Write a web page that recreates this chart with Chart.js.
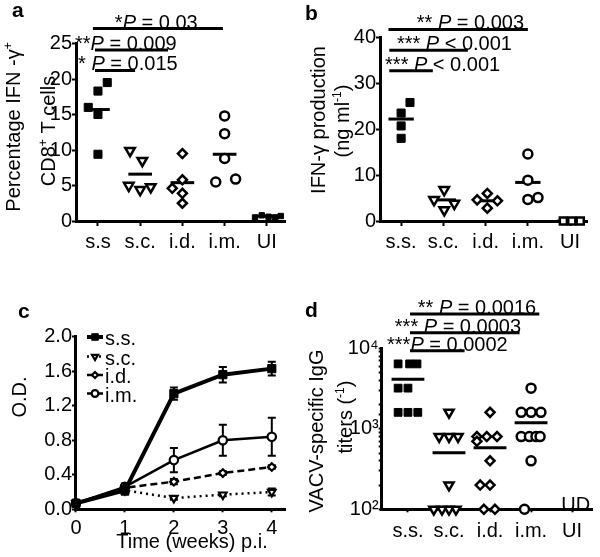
<!DOCTYPE html>
<html>
<head>
<meta charset="utf-8">
<script src="https://cdn.jsdelivr.net/npm/chart.js@4.4.0/dist/chart.umd.min.js"></script>
<style>
  body { margin: 0; background: #fff; }
  #wrap { position: relative; width: 600px; height: 557px; }
  canvas { position: absolute; }
</style>
</head>
<body>
<div id="wrap">
  <canvas id="panelA" width="300" height="280" style="left:0;top:0"></canvas>
  <canvas id="panelB" width="300" height="280" style="left:300px;top:0"></canvas>
  <canvas id="panelC" width="300" height="277" style="left:0;top:280px"></canvas>
  <canvas id="panelD" width="300" height="277" style="left:300px;top:280px"></canvas>
</div>
<script>
// ---- data ----
// dot plots: [jitter, value] per animal
const groupsA = ['s.s', 's.c.', 'i.d.', 'i.m.', 'UI'];
const aSS = [[-0.23, 16.0], [0, 18.3], [0.22, 19.5], [0, 15.0], [0, 9.4]];
const aSC = [[-0.24, 9.9], [0.05, 8.5], [-0.27, 5.0], [0, 4.4], [0.25, 4.8]];
const aID = [[0, 9.5], [0, 5.8], [-0.24, 4.6], [0, 3.9], [0, 2.5]];
const aIM = [[0, 14.8], [0, 12.3], [0, 8.8], [-0.21, 5.5], [0.26, 5.9]];
const aUI = [[-0.28, 0.5], [-0.12, 0.8], [0.04, 0.6], [0.2, 0.5], [0.33, 0.7]];
const aMeans = [15.7, 6.6, 5.4, 9.4, 0.7];
const aSig = [
  { from: 0.88, to: 3.96, y: 27.1, tx: 1.40, stars: '*', op: '=', p: '0.03' },
  { from: 0.93, to: 2.66, y: 24.1, tx: 0.455, stars: '**', op: '=', p: '0.009' },
  { from: 0.93, to: 1.88, y: 21.2, tx: 0.53, stars: '* ', op: '=', p: '0.015' }
];

const groupsB = ['s.s.', 's.c.', 'i.d.', 'i.m.', 'UI'];
const bSS = [[0, 18.0], [0, 20.7], [0, 23.5], [0.21, 25.8]];
const bSC = [[0.02, 6.8], [-0.22, 4.6], [0.26, 3.8], [0.02, 2.4]];
const bID = [[0.04, 6.0], [-0.2, 4.6], [0.28, 4.4], [0.04, 2.8]];
const bIM = [[0, 14.6], [0, 8.9], [0, 4.7], [0.24, 5.1]];
const bUI = [[-0.16, 0], [0.04, 0], [0.24, 0]];
const bMeans = [22.2, 4.6, 4.4, 8.4, 0];
const bSig = [
  { from: 0.70, to: 4.0, y: 41.7, tx: 1.37, stars: '** ', op: '=', p: '0.003' },
  { from: 0.72, to: 2.58, y: 37.2, tx: 0.90, stars: '*** ', op: '<', p: '0.001' },
  { from: 0.72, to: 1.75, y: 32.7, tx: 0.62, stars: '*** ', op: '<', p: '0.001' }
];

// time course (O.D.)
const weeks = [0, 1, 2, 3, 4];
const cSS = [0.07, 0.22, 1.34, 1.56, 1.63];
const cSSErr = [0.02, 0.05, 0.07, 0.09, 0.08];
const cSC = [0.07, 0.22, 0.13, 0.17, 0.20];
const cSCErr = [0.01, 0.02, 0.02, 0.02, 0.04];
const cID = [0.07, 0.25, 0.32, 0.42, 0.49];
const cIDErr = [0.01, 0.03, 0.03, 0.02, 0.02];
const cIM = [0.07, 0.26, 0.57, 0.80, 0.84];
const cIMErr = [0.02, 0.04, 0.14, 0.18, 0.22];
const cNames = ['s.s.', 's.c.', 'i.d.', 'i.m.'];

const groupsD = ['s.s.', 's.c.', 'i.d.', 'i.m.', 'UI'];
const dSS = [[-0.24, 6400], [0.04, 6400], [0.22, 6400], [-0.24, 3200], [0, 3200],
             [-0.24, 1600], [0, 1600], [0.24, 1600]];
const dSC = [[0, 1600], [-0.24, 800], [0, 800], [0.22, 800], [0, 200],
             [-0.37, 100], [-0.17, 100], [0, 100], [0.17, 100]];
const dID = [[0, 1600], [-0.32, 800], [-0.08, 800], [0.17, 800], [-0.32, 700], [0, 400],
             [-0.24, 200], [0, 200], [-0.15, 100], [0.12, 100]];
const dIM = [[0, 3200], [-0.24, 1600], [0, 1600], [0.24, 1600], [-0.24, 800], [-0.04, 800],
             [0.12, 800], [0.22, 800], [0, 400], [-0.16, 100]];
const dMeans = [4120, 505, 582, 1190];
const dSig = [
  { from: 1.05, to: 4.2, y: 26700, tx: 1.24, stars: '** ', op: '=', p: '0.0016' },
  { from: 1.05, to: 3.72, y: 15600, tx: 0.68, stars: '*** ', op: '=', p: '0.0003' },
  { from: 1.05, to: 2.38, y: 9340, tx: 0.49, stars: '***', op: '=', p: '0.0002' }
];

// ---- helpers ----
const FONT = "'Liberation Sans', Arial, Helvetica, sans-serif";
Chart.defaults.font.family = FONT;
Chart.defaults.color = '#000';

function fontOf(style, size) {
  if (style === 'i') return 'italic ' + size + 'px ' + FONT;
  if (style === 'b') return 'bold ' + size + 'px ' + FONT;
  if (style === 'sup') return Math.round(size * 0.62) + 'px ' + FONT;
  return size + 'px ' + FONT;
}

// text made of pieces: [text, style]
function drawRich(ctx, parts, x, y, size, align) {
  let w = 0;
  parts.forEach(p => { ctx.font = fontOf(p[1], size); w += ctx.measureText(p[0]).width; });
  let cx = align === 'center' ? x - w / 2 : x;
  parts.forEach(p => {
    ctx.font = fontOf(p[1], size);
    ctx.fillText(p[0], cx, p[1] === 'sup' ? y - size * 0.4 : y);
    cx += ctx.measureText(p[0]).width;
  });
}

function xAxis(values, names, min, max, height, tickLen, pad) {
  return {
    type: 'linear', min: min, max: max,
    border: { color: '#000', width: 3 },
    grid: { drawOnChartArea: false, tickLength: tickLen, tickWidth: 2, tickColor: '#000' },
    ticks: { font: { size: 20 }, padding: pad, maxRotation: 0, autoSkip: false,
             callback: v => names[values.indexOf(v)] },
    afterBuildTicks: s => { s.ticks = values.map(v => ({ value: v })); },
    afterFit: s => { s.height = height; }
  };
}

function yAxis(min, max, step, width, tickLen, fmt) {
  return {
    min: min, max: max,
    border: { color: '#000', width: 3 },
    grid: { drawOnChartArea: false, tickLength: tickLen, tickWidth: 2, tickColor: '#000' },
    ticks: { font: { size: 20 }, padding: 0, stepSize: step, autoSkip: false, callback: fmt },
    afterFit: s => { s.width = width; }
  };
}

function dots(pts, cat, style, r, open) {
  return {
    data: pts.map(p => ({ x: cat + p[0], y: p[1] })),
    pointStyle: style, pointRadius: r,
    pointRotation: style === 'triangle' ? 180 : 0,
    pointBackgroundColor: open ? '#fff' : '#000',
    pointBorderColor: '#000', pointBorderWidth: open ? 2.5 : 1,
    clip: false
  };
}

function meanLine(m, cat, half) {
  return {
    data: [{ x: cat - half, y: m }, { x: cat + half, y: m }],
    showLine: true, borderColor: '#000', borderWidth: 3, pointRadius: 0, clip: false
  };
}

// letter, rotated y title, significance bars
function decor(cfg) {
  return {
    id: 'decor',
    beforeDatasetsDraw(chart) {
      if (cfg.under) cfg.under(chart, chart.ctx);
    },
    afterDraw(chart) {
      const ctx = chart.ctx, xs = chart.scales.x, ys = chart.scales.y;
      ctx.save();
      ctx.fillStyle = '#000';
      ctx.strokeStyle = '#000';
      ctx.textAlign = 'left';
      ctx.textBaseline = 'alphabetic';
      drawRich(ctx, [[cfg.letter, 'b']], cfg.letterAt[0], cfg.letterAt[1], 21, 'left');
      cfg.yTitle.forEach(t => {
        ctx.save();
        ctx.translate(t.x, t.y);
        ctx.rotate(-Math.PI / 2);
        drawRich(ctx, t.parts, 0, 0, 20, 'center');
        ctx.restore();
      });
      (cfg.sig || []).forEach(s => {
        const py = ys.getPixelForValue(s.y);
        ctx.lineWidth = 3;
        ctx.beginPath();
        ctx.moveTo(xs.getPixelForValue(s.from), py);
        ctx.lineTo(xs.getPixelForValue(s.to), py);
        ctx.stroke();
        drawRich(ctx, [[s.stars, ''], ['P', 'i'], [' ' + s.op + ' ' + s.p, '']],
                 xs.getPixelForValue(s.tx), py, 20, 'left');
      });
      if (cfg.extra) cfg.extra(chart, ctx);
      ctx.restore();
    }
  };
}

const baseOpts = {
  responsive: false, animation: false, events: [], devicePixelRatio: 1,
  plugins: { legend: { display: false }, tooltip: { enabled: false } }
};

// ---- a ----
const catsA = [1, 2, 3, 4, 5];
new Chart(document.getElementById('panelA').getContext('2d'), {
  type: 'scatter',
  data: {
    datasets: [
      dots(aSS, 1, 'rect', 5.7, false),
      dots(aSC, 2, 'triangle', 5.5, true),
      dots(aID, 3, 'rectRot', 4.5, true),
      dots(aIM, 4, 'circle', 4.5, true),
      dots(aUI, 5, 'rect', 3.8, false)
    ].concat(aMeans.map((m, i) => meanLine(m, i + 1, 0.28)))
  },
  options: Object.assign({}, baseOpts, {
    layout: { padding: { top: 43.5, right: 15, left: 0, bottom: 0 } },
    scales: {
      x: xAxis(catsA, groupsA, 0.48, 5.43, 59, 5, 4),
      y: yAxis(0, 25, 5, 76, 4)
    }
  }),
  plugins: [decor({
    letter: 'a', letterAt: [12, 17],
    yTitle: [
      { x: 20, y: 127, parts: [['Percentage IFN -γ', ''], ['+', 'sup']] },
      { x: 55, y: 131, parts: [['CD8', ''], ['+', 'sup'], [' T cells', '']] }
    ],
    sig: aSig
  })]
});

// ---- b ----
new Chart(document.getElementById('panelB').getContext('2d'), {
  type: 'scatter',
  data: {
    datasets: [
      dots(bSS, 1, 'rect', 5.7, false),
      dots(bSC, 2, 'triangle', 5.5, true),
      dots(bID, 3, 'rectRot', 4.5, true),
      dots(bIM, 4, 'circle', 4.5, true),
      dots(bUI, 5, 'rect', 5, true)
    ].concat(bMeans.map((m, i) => meanLine(m, i + 1, 0.3)))
  },
  options: Object.assign({}, baseOpts, {
    layout: { padding: { top: 37.3, right: 13, left: 0, bottom: 0 } },
    scales: {
      x: xAxis(catsA, groupsB, 0.5, 5.4, 59, 5, 4),
      y: yAxis(0, 40, 10, 80, 4)
    }
  }),
  plugins: [decor({
    letter: 'b', letterAt: [5, 20],
    yTitle: [
      { x: 25, y: 120, parts: [['IFN-γ production', '']] },
      { x: 49, y: 121, parts: [['(ng ml', ''], ['-1', 'sup'], [')', '']] }
    ],
    sig: bSig
  })]
});

// ---- c ----
function seriesC(vals, err, style, r, open, width, dash) {
  return {
    data: vals.map((v, i) => ({ x: weeks[i], y: v })),
    err: err,
    showLine: true, tension: 0, borderColor: '#000', borderWidth: width, borderDash: dash,
    pointStyle: style, pointRadius: r, pointRotation: style === 'triangle' ? 180 : 0,
    pointBackgroundColor: open ? '#fff' : '#000', pointBorderColor: '#000',
    pointBorderWidth: open ? 2.2 : 1, clip: false
  };
}

new Chart(document.getElementById('panelC').getContext('2d'), {
  type: 'scatter',
  data: {
    datasets: [
      seriesC(cSS, cSSErr, 'rect', 5.8, false, 4, []),
      seriesC(cSC, cSCErr, 'triangle', 4.3, true, 2.5, [2, 4]),
      seriesC(cID, cIDErr, 'rectRot', 3.8, true, 2.5, [7, 4]),
      seriesC(cIM, cIMErr, 'circle', 4.2, true, 2.5, [])
    ]
  },
  options: Object.assign({}, baseOpts, {
    layout: { padding: { top: 56.7, right: 15, left: 0, bottom: 0 } },
    scales: {
      x: xAxis(weeks, weeks.map(String), -0.02, 4.27, 47.7, 3, 4),
      y: yAxis(0, 2, 0.4, 75, 3, v => v.toFixed(1))
    }
  }),
  plugins: [decor({
    letter: 'c', letterAt: [18, 38],
    yTitle: [{ x: 26, y: 117, parts: [['O.D.', '']] }],
    under: (chart, ctx) => {
      // error bars
      const xs = chart.scales.x, ys = chart.scales.y;
      ctx.save();
      ctx.strokeStyle = '#000';
      ctx.lineWidth = 2;
      chart.data.datasets.forEach(ds => {
        ds.data.forEach((p, i) => {
          const px = xs.getPixelForValue(p.x);
          const top = ys.getPixelForValue(p.y + ds.err[i]);
          const bot = ys.getPixelForValue(p.y - ds.err[i]);
          ctx.beginPath();
          ctx.moveTo(px, top); ctx.lineTo(px, bot);
          ctx.moveTo(px - 4, top); ctx.lineTo(px + 4, top);
          ctx.moveTo(px - 4, bot); ctx.lineTo(px + 4, bot);
          ctx.stroke();
        });
      });
      ctx.restore();
    },
    extra: (chart, ctx) => {
      drawRich(ctx, [['Time (weeks) p.i.', '']], 192, 268, 20, 'center');
      // legend
      const rows = [57, 76.5, 95, 113.5];
      chart.data.datasets.forEach((ds, i) => {
        ctx.save();
        ctx.lineWidth = ds.borderWidth;
        ctx.setLineDash(ds.borderDash);
        ctx.beginPath();
        ctx.moveTo(87, rows[i]); ctx.lineTo(103, rows[i]);
        ctx.stroke();
        ctx.setLineDash([]);
        ctx.fillStyle = ds.pointBackgroundColor;
        ctx.lineWidth = ds.pointBorderWidth;
        Chart.helpers.drawPoint(ctx, {
          pointStyle: ds.pointStyle, rotation: ds.pointRotation,
          radius: ds.pointRadius * 0.8, borderWidth: ds.pointBorderWidth
        }, 95, rows[i]);
        ctx.restore();
        drawRich(ctx, [[cNames[i], '']], 105, rows[i] + 8, 20, 'left');
      });
    }
  })]
});

// ---- d ----
const supDigits = { 100: '10²', 1000: '10³', 10000: '10⁴' };
const dY = yAxis(100, 10000, null, 81.7, 3, v => supDigits[v] || '');
dY.type = 'logarithmic';
delete dY.ticks.stepSize;

new Chart(document.getElementById('panelD').getContext('2d'), {
  type: 'scatter',
  data: {
    datasets: [
      dots(dSS, 1, 'rect', 5.5, false),
      dots(dSC, 2, 'triangle', 5.3, true),
      dots(dID, 3, 'rectRot', 4.5, true),
      dots(dIM, 4, 'circle', 4.5, true)
    ].concat(dMeans.map((m, i) => meanLine(m, i + 1, 0.4)))
  },
  options: Object.assign({}, baseOpts, {
    layout: { padding: { top: 68.3, right: 7, left: 0, bottom: 0 } },
    scales: {
      x: xAxis(catsA, groupsD, 0.36, 5.49, 47.7, 3, 7),
      y: dY
    }
  }),
  plugins: [decor({
    letter: 'd', letterAt: [5, 37],
    yTitle: [
      { x: 23, y: 151, parts: [['VACV-specific IgG', '']] },
      { x: 52, y: 137, parts: [['titers (', ''], ['-1', 'sup'], [')', '']] }
    ],
    sig: dSig,
    extra: (chart, ctx) => {
      drawRich(ctx, [['UD', '']], chart.scales.x.getPixelForValue(5.09), 231, 20, 'center');
    }
  })]
});
</script>
</body>
</html>
